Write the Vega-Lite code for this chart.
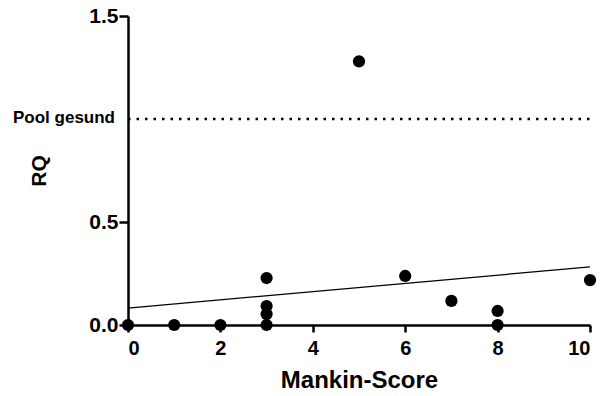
{
  "$schema": "https://vega.github.io/schema/vega-lite/v6.json",
  "width": 462,
  "height": 309,
  "autosize": "none",
  "padding": {"left": 128, "top": 16, "right": 16, "bottom": 71},
  "background": "white",
  "config": {
    "view": {"stroke": null},
    "font": "Liberation Sans",
    "axis": {
      "grid": false,
      "domainColor": "black",
      "domainWidth": 2.5,
      "tickColor": "black",
      "tickWidth": 2.5,
      "labelColor": "black",
      "labelFont": "Liberation Sans",
      "labelFontWeight": "bold",
      "titleColor": "black",
      "titleFont": "Liberation Sans",
      "titleFontWeight": "bold"
    }
  },
  "datasets": {
    "points": [
      {"score": 0, "rq": 0.0},
      {"score": 1, "rq": 0.0},
      {"score": 2, "rq": 0.0},
      {"score": 3, "rq": 0.0},
      {"score": 3, "rq": 0.053},
      {"score": 3, "rq": 0.092},
      {"score": 3, "rq": 0.228},
      {"score": 5, "rq": 1.28},
      {"score": 6, "rq": 0.238},
      {"score": 7, "rq": 0.117},
      {"score": 8, "rq": 0.068},
      {"score": 8, "rq": 0.0},
      {"score": 10, "rq": 0.218}
    ],
    "fit": [
      {"score": 0, "rq": 0.082},
      {"score": 10, "rq": 0.282}
    ],
    "ref": [
      {"score": 0, "rq": 1.0, "label": "Pool gesund"},
      {"score": 10, "rq": 1.0, "label": ""}
    ]
  },
  "layer": [
    {
      "data": {"name": "ref"},
      "mark": {"type": "line", "color": "black", "strokeWidth": 2.5, "strokeDash": [2.5, 6], "clip": false},
      "encoding": {
        "x": {"field": "score", "type": "quantitative", "scale": {"domain": [0, 10], "nice": false},
          "axis": {"values": [0, 2, 4, 6, 8, 10], "title": "Mankin-Score", "titleFontSize": 24, "titlePadding": 10, "tickSize": 7, "labelPadding": 6, "labelFontSize": 20}},
        "y": {"field": "rq", "type": "quantitative", "scale": {"domain": [0, 1.5], "nice": false},
          "axis": {"values": [0, 0.5, 1.5], "format": ".1f", "title": "RQ", "titleFontSize": 21, "titlePadding": 39, "tickSize": 9, "labelPadding": 1, "labelFontSize": 21}}
      }
    },
    {
      "data": {"name": "ref"},
      "transform": [{"filter": "datum.label != ''"}],
      "mark": {"type": "text", "align": "right", "baseline": "middle", "dx": -13, "dy": -1, "fontSize": 17, "fontWeight": "bold", "font": "Liberation Sans", "color": "black"},
      "encoding": {
        "x": {"field": "score", "type": "quantitative"},
        "y": {"field": "rq", "type": "quantitative"},
        "text": {"field": "label"}
      }
    },
    {
      "data": {"name": "fit"},
      "mark": {"type": "line", "color": "black", "strokeWidth": 1.3},
      "encoding": {
        "x": {"field": "score", "type": "quantitative"},
        "y": {"field": "rq", "type": "quantitative"}
      }
    },
    {
      "data": {"name": "points"},
      "mark": {"type": "point", "shape": "circle", "filled": true, "color": "black", "opacity": 1, "size": 150, "clip": false},
      "encoding": {
        "x": {"field": "score", "type": "quantitative"},
        "y": {"field": "rq", "type": "quantitative"}
      }
    }
  ]
}
